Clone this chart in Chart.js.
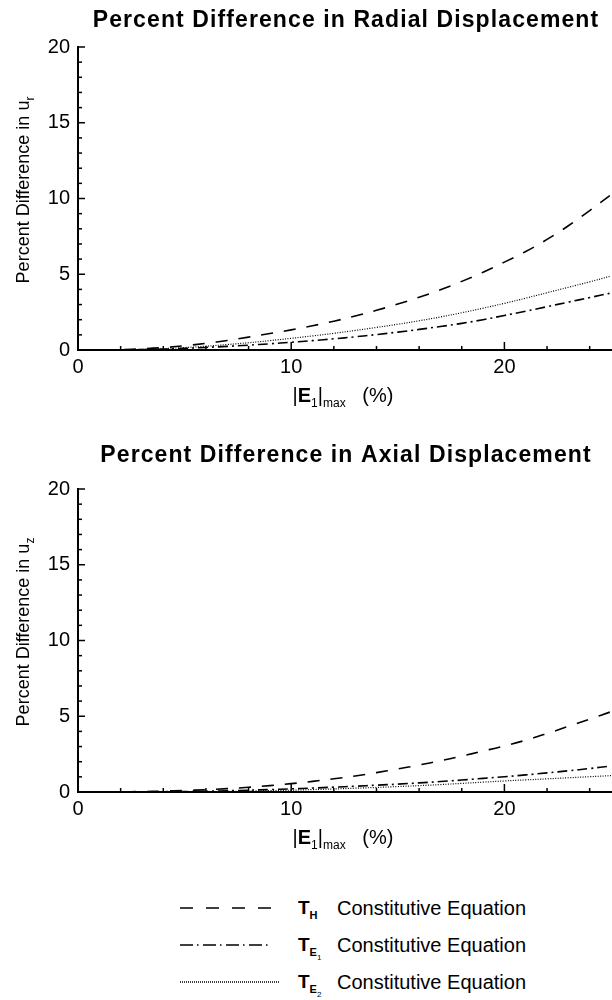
<!DOCTYPE html>
<html>
<head>
<meta charset="utf-8">
<title>Percent Difference in Displacement</title>
<script src="https://cdn.jsdelivr.net/npm/chart.js@4.4.0/dist/chart.umd.min.js"></script>
<style>
  body {
    margin: 0;
    width: 612px;
    height: 1000px;
    position: relative;
    overflow: hidden;
    background: #fff;
    font-family: "Liberation Sans", Arial, Helvetica, sans-serif;
    color: #000;
  }
  canvas { position: absolute; left: 0; }
  #radialChart { top: 0; }
  #axialChart { top: 442px; }
  .key-line { position: absolute; left: 180px; }
  .key-sym {
    position: absolute;
    left: 298px;
    font-weight: bold;
    font-size: 19px;
    line-height: 24px;
  }
  .key-sym sub { font-size: 11px; vertical-align: -5px; }
  .key-sym sub sub { font-size: 8px; vertical-align: -4px; font-weight: normal; }
  .key-text {
    position: absolute;
    left: 337px;
    font-size: 20px;
    line-height: 24px;
  }
</style>
</head>
<body>
<canvas id="radialChart" width="612" height="430"></canvas>
<canvas id="axialChart" width="612" height="430"></canvas>

<!-- legend -->
<svg class="key-line" style="top:896px" width="92" height="24">
  <line x1="0" y1="12" x2="92" y2="12" stroke="#000" stroke-width="1.6" stroke-dasharray="13 13"/>
</svg>
<div class="key-sym" style="top:896px">T<sub>H</sub></div>
<div class="key-text" style="top:896px">Constitutive Equation</div>

<svg class="key-line" style="top:933px" width="92" height="24">
  <line x1="0" y1="12" x2="92" y2="12" stroke="#000" stroke-width="1.6" stroke-dasharray="13 4 1.5 4.5"/>
</svg>
<div class="key-sym" style="top:933px">T<sub>E<sub>1</sub></sub></div>
<div class="key-text" style="top:933px">Constitutive Equation</div>

<svg class="key-line" style="top:970px" width="100" height="24">
  <line x1="0" y1="12" x2="100" y2="12" stroke="#000" stroke-width="1.4" stroke-dasharray="1 1"/>
</svg>
<div class="key-sym" style="top:970px">T<sub>E<sub>2</sub></sub></div>
<div class="key-text" style="top:970px">Constitutive Equation</div>

<script>
const FONT = '"Liberation Sans", Arial, Helvetica, sans-serif';

// |E1|max in percent
const strainMax = [0, 1, 2, 3, 4, 5, 6, 7, 8, 9, 10, 11, 12, 13, 14, 15, 16, 17, 18, 19, 20, 21, 22, 23, 24, 25];

// percent difference in radial displacement u_r
const radialTH  = [0, 0.01, 0.03, 0.08, 0.16, 0.28, 0.44, 0.63, 0.85, 1.09, 1.33, 1.6, 1.9, 2.24, 2.62, 3.03, 3.48, 3.98, 4.53, 5.13, 5.8, 6.5, 7.3, 8.2, 9.2, 10.25];
const radialTE1 = [0, 0, 0.01, 0.03, 0.06, 0.11, 0.17, 0.24, 0.32, 0.41, 0.51, 0.62, 0.74, 0.87, 1.02, 1.18, 1.36, 1.55, 1.76, 2.0, 2.28, 2.56, 2.86, 3.16, 3.46, 3.76];
const radialTE2 = [0, 0, 0.01, 0.04, 0.09, 0.16, 0.25, 0.36, 0.48, 0.62, 0.77, 0.93, 1.1, 1.29, 1.49, 1.7, 1.93, 2.18, 2.46, 2.76, 3.08, 3.42, 3.78, 4.14, 4.5, 4.88];

// percent difference in axial displacement u_z
const axialTH  = [0, 0, 0.01, 0.03, 0.06, 0.1, 0.15, 0.22, 0.31, 0.42, 0.55, 0.7, 0.87, 1.06, 1.28, 1.52, 1.78, 2.06, 2.37, 2.7, 3.04, 3.42, 3.86, 4.33, 4.81, 5.3];
const axialTE1 = [0, 0, 0, 0.01, 0.02, 0.03, 0.05, 0.08, 0.12, 0.16, 0.21, 0.26, 0.32, 0.38, 0.45, 0.52, 0.6, 0.69, 0.79, 0.9, 1.01, 1.13, 1.26, 1.4, 1.55, 1.72];
const axialTE2 = [0, 0, 0, 0, 0.01, 0.01, 0.02, 0.04, 0.06, 0.09, 0.12, 0.16, 0.2, 0.25, 0.3, 0.36, 0.42, 0.49, 0.57, 0.65, 0.73, 0.8, 0.87, 0.94, 1.01, 1.08];

// tick marks (drawn pointing into the plot)
const xMajorTicks = [0, 10, 20];
const xMinorTicks = [2, 4, 6, 8, 12, 14, 16, 18, 22, 24];
const yMajorTicks = [0, 5, 10, 15, 20];
const yMinorTicks = [1, 2, 3, 4, 6, 7, 8, 9, 11, 12, 13, 14, 16, 17, 18, 19];

function toPoints(values) {
    return strainMax.map((e, i) => ({ x: e, y: values[i] }));
}

// draws a run of text pieces (some of them subscripts) centred on cx
function drawRuns(ctx, runs, cx, baseline) {
    let total = 0;
    runs.forEach(r => { ctx.font = r.font; total += ctx.measureText(r.text).width; });
    let pos = cx - total / 2;
    ctx.textAlign = 'left';
    ctx.textBaseline = 'alphabetic';
    runs.forEach(r => {
        ctx.font = r.font;
        ctx.fillText(r.text, pos, baseline + (r.dy || 0));
        pos += ctx.measureText(r.text).width;
    });
}

const plotDecor = {
    id: 'plotDecor',
    afterDraw(chart, args, opts) {
        const { ctx, chartArea: area, scales: { x, y } } = chart;
        ctx.save();
        ctx.strokeStyle = '#000';
        ctx.fillStyle = '#000';
        ctx.lineWidth = 1.5;

        const mark = (x1, y1, x2, y2) => {
            ctx.beginPath();
            ctx.moveTo(x1, y1);
            ctx.lineTo(x2, y2);
            ctx.stroke();
        };
        yMajorTicks.forEach(v => { const p = y.getPixelForValue(v); mark(area.left, p, area.left + 7, p); });
        yMinorTicks.forEach(v => { const p = y.getPixelForValue(v); mark(area.left, p, area.left + 4, p); });
        xMajorTicks.forEach(v => { const p = x.getPixelForValue(v); mark(p, area.bottom, p, area.bottom - 8); });
        xMinorTicks.forEach(v => { const p = x.getPixelForValue(v); mark(p, area.bottom, p, area.bottom - 4); });

        // plot title
        ctx.font = 'bold 23px ' + FONT;
        if ('letterSpacing' in ctx) ctx.letterSpacing = '1.1px';
        ctx.textAlign = 'center';
        ctx.textBaseline = 'middle';
        ctx.fillText(opts.title, 346, opts.titleY);
        if ('letterSpacing' in ctx) ctx.letterSpacing = '0px';

        // x axis title: |E1|max (%)
        drawRuns(ctx, [
            { text: '|', font: '20px ' + FONT },
            { text: 'E', font: 'bold 20px ' + FONT },
            { text: '1', font: '12px ' + FONT, dy: 5 },
            { text: '|', font: '20px ' + FONT },
            { text: 'max', font: '12px ' + FONT, dy: 5 },
            { text: '   (%)', font: '20px ' + FONT }
        ], 343, 402);

        // y axis title, rotated
        ctx.translate(22, 190);
        ctx.rotate(-Math.PI / 2);
        drawRuns(ctx, [
            { text: 'Percent Difference in u', font: '18px ' + FONT },
            { text: opts.sub, font: '12px ' + FONT, dy: 5 }
        ], 0, 6.5);
        ctx.restore();
    }
};

function createPlot(canvasId, th, te1, te2, title, sub, titleY) {
    const ctx = document.getElementById(canvasId).getContext('2d');

    new Chart(ctx, {
        type: 'line',
        data: {
            datasets: [
                { label: 'TH',  data: toPoints(th),  borderDash: [12, 11], borderWidth: 1.6 },
                { label: 'TE1', data: toPoints(te1), borderDash: [10, 4, 2, 4], borderWidth: 1.6 },
                { label: 'TE2', data: toPoints(te2), borderDash: [1, 1.5], borderWidth: 1.2 }
            ]
        },
        options: {
            responsive: false,
            animation: false,
            layout: { padding: { top: 47, right: 1, left: 0, bottom: 0 } },
            elements: {
                point: { radius: 0 },
                line: { borderColor: '#000', tension: 0.4, fill: false }
            },
            plugins: {
                legend: { display: false },
                tooltip: { enabled: false },
                plotDecor: { title: title, sub: sub, titleY: titleY }
            },
            scales: {
                x: {
                    type: 'linear',
                    min: 0,
                    max: 25,
                    afterFit: function(scale) { scale.height = 80; },
                    border: { color: '#000', width: 2 },
                    grid: { drawOnChartArea: false, drawTicks: false },
                    ticks: {
                        stepSize: 10,
                        includeBounds: false,
                        padding: 5,
                        color: '#000',
                        font: { family: FONT, size: 20 }
                    }
                },
                y: {
                    min: 0,
                    max: 20,
                    afterFit: function(scale) { scale.width = 78; },
                    border: { color: '#000', width: 2 },
                    grid: { drawOnChartArea: false, drawTicks: false },
                    ticks: {
                        stepSize: 5,
                        padding: 8,
                        color: '#000',
                        font: { family: FONT, size: 20 }
                    }
                }
            }
        },
        plugins: [plotDecor]
    });
}

createPlot('radialChart', radialTH, radialTE1, radialTE2,
    'Percent Difference in Radial Displacement', 'r', 21);
createPlot('axialChart', axialTH, axialTE1, axialTE2,
    'Percent Difference in Axial Displacement', 'z', 14);
</script>
</body>
</html>
